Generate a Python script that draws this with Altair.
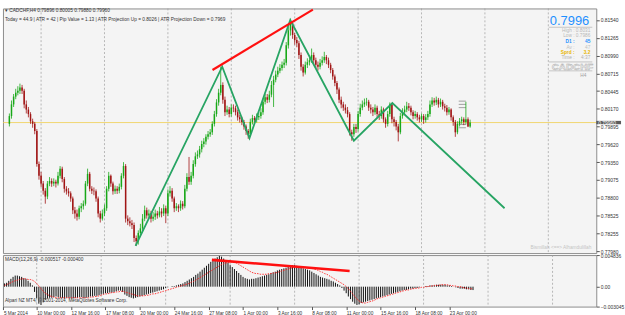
import altair as alt
import pandas as pd

# ---------------- data ----------------
first_open = 0.7994
close = [0.8006, 0.8024, 0.8036, 0.8042, 0.8045, 0.8050, 0.8045, 0.8024, 0.8016, 0.8009,
         0.7998, 0.7994, 0.7983, 0.7932, 0.7914, 0.7902, 0.7891, 0.7882, 0.7902, 0.7906,
         0.7902, 0.7905, 0.7902, 0.7914, 0.7925, 0.7909, 0.7894, 0.7890, 0.7887, 0.7879,
         0.7861, 0.7856, 0.7851, 0.7864, 0.7867, 0.7871, 0.7902, 0.7917, 0.7894, 0.7891,
         0.7890, 0.7879, 0.7856, 0.7848, 0.7856, 0.7864, 0.7894, 0.7914, 0.7902, 0.7890,
         0.7894, 0.7891, 0.7897, 0.7914, 0.7929, 0.7848, 0.7844, 0.7841, 0.7838, 0.7818,
         0.7813, 0.7826, 0.7833, 0.7848, 0.7861, 0.7853, 0.7856, 0.7848, 0.7851, 0.7856,
         0.7853, 0.7859, 0.7856, 0.7864, 0.7856, 0.7887, 0.7891, 0.7879, 0.7864, 0.7867,
         0.7864, 0.7871, 0.7867, 0.7894, 0.7912, 0.7905, 0.7914, 0.7932, 0.7944, 0.7947,
         0.7955, 0.7963, 0.7967, 0.7974, 0.7978, 0.7981, 0.7994, 0.8009, 0.8027, 0.8042,
         0.8054, 0.8031, 0.8012, 0.8016, 0.8009, 0.8019, 0.8018, 0.8012, 0.8004, 0.8001,
         0.7997, 0.7990, 0.7983, 0.7978, 0.7997, 0.8003, 0.8000, 0.8004, 0.8006, 0.8012,
         0.8028, 0.8035, 0.8031, 0.8039, 0.8054, 0.8062, 0.8070, 0.8076, 0.8080, 0.8085,
         0.8088, 0.8115, 0.8138, 0.8149, 0.8131, 0.8123, 0.8118, 0.8100, 0.8082, 0.8073,
         0.8085, 0.8089, 0.8092, 0.8100, 0.8092, 0.8085, 0.8082, 0.8088, 0.8092, 0.8097,
         0.8092, 0.8085, 0.8077, 0.8067, 0.8057, 0.8047, 0.8031, 0.8024, 0.8019, 0.8015,
         0.8009, 0.7981, 0.7978, 0.7989, 0.7986, 0.8009, 0.8019, 0.8024, 0.8027, 0.8028,
         0.8019, 0.8016, 0.8012, 0.8019, 0.8009, 0.8006, 0.8016, 0.8001, 0.7994, 0.8009,
         0.8024, 0.8001, 0.7997, 0.7990, 0.7981, 0.8006, 0.8012, 0.8016, 0.8021, 0.8019,
         0.8012, 0.8006, 0.8009, 0.8004, 0.8001, 0.8006, 0.8000, 0.8004, 0.8009, 0.8024,
         0.8030, 0.8027, 0.8031, 0.8024, 0.8028, 0.8021, 0.8019, 0.8012, 0.8016, 0.8004,
         0.7997, 0.7981, 0.7994, 0.7998, 0.8001, 0.7997, 0.8001, 0.7990, 0.79960]
high = [0.8010, 0.8030, 0.8040, 0.8048, 0.8052, 0.8056, 0.8054, 0.8048, 0.8030, 0.8020,
        0.8012, 0.8002, 0.7997, 0.7986, 0.7936, 0.7920, 0.7906, 0.7895, 0.7906, 0.7912,
        0.7910, 0.7910, 0.7908, 0.7920, 0.7929, 0.7928, 0.7912, 0.7898, 0.7895, 0.7890,
        0.7882, 0.7866, 0.7862, 0.7868, 0.7872, 0.7876, 0.7906, 0.7925, 0.7920, 0.7898,
        0.7896, 0.7893, 0.7882, 0.7860, 0.7862, 0.7870, 0.7898, 0.7920, 0.7916, 0.7905,
        0.7899, 0.7898, 0.7902, 0.7918, 0.7935, 0.7932, 0.7853, 0.7850, 0.7846, 0.7842,
        0.7822, 0.7830, 0.7840, 0.7855, 0.7868, 0.7865, 0.7862, 0.7860, 0.7858, 0.7862,
        0.7860, 0.7866, 0.7864, 0.7870, 0.7868, 0.7893, 0.7898, 0.7895, 0.7882, 0.7872,
        0.7870, 0.7876, 0.7875, 0.7900, 0.7918, 0.7943, 0.7920, 0.7938, 0.7950, 0.7953,
        0.7960, 0.7968, 0.7972, 0.7978, 0.7983, 0.7986, 0.7998, 0.8014, 0.8032, 0.8048,
        0.8082, 0.8058, 0.8036, 0.8022, 0.8020, 0.8024, 0.8024, 0.8022, 0.8016, 0.8008,
        0.8005, 0.8000, 0.7993, 0.7986, 0.8002, 0.8008, 0.8006, 0.8010, 0.8012, 0.8018,
        0.8033, 0.8040, 0.8040, 0.8045, 0.8060, 0.8068, 0.8076, 0.8082, 0.8086, 0.8090,
        0.8094, 0.8120, 0.8143, 0.8156, 0.8152, 0.8134, 0.8128, 0.8122, 0.8104, 0.8086,
        0.8090, 0.8095, 0.8098, 0.8110, 0.8104, 0.8096, 0.8090, 0.8094, 0.8098, 0.8105,
        0.8100, 0.8096, 0.8088, 0.8080, 0.8070, 0.8060, 0.8050, 0.8036, 0.8028, 0.8024,
        0.8020, 0.8012, 0.7985, 0.7994, 0.7994, 0.8014, 0.8025, 0.8030, 0.8033, 0.8034,
        0.8031, 0.8024, 0.8020, 0.8024, 0.8022, 0.8014, 0.8021, 0.8019, 0.8004, 0.8014,
        0.8027, 0.8026, 0.8005, 0.8000, 0.7994, 0.8011, 0.8018, 0.8022, 0.8028, 0.8026,
        0.8022, 0.8015, 0.8014, 0.8012, 0.8008, 0.8010, 0.8009, 0.8009, 0.8014, 0.8030,
        0.8035, 0.8034, 0.8036, 0.8034, 0.8033, 0.8031, 0.8025, 0.8023, 0.8020, 0.8018,
        0.8007, 0.8000, 0.7998, 0.8003, 0.8005, 0.8004, 0.8028, 0.8004, 0.80005]
low = [0.7990, 0.8002, 0.8020, 0.8032, 0.8038, 0.8040, 0.8040, 0.8018, 0.8010, 0.8004,
       0.7994, 0.7988, 0.7978, 0.7928, 0.7908, 0.7897, 0.7885, 0.7871, 0.7878, 0.7898,
       0.7897, 0.7898, 0.7896, 0.7899, 0.7910, 0.7904, 0.7888, 0.7885, 0.7882, 0.7874,
       0.7855, 0.7848, 0.7845, 0.7847, 0.7858, 0.7862, 0.7868, 0.7898, 0.7890, 0.7886,
       0.7884, 0.7874, 0.7850, 0.7842, 0.7845, 0.7852, 0.7860, 0.7890, 0.7897, 0.7885,
       0.7886, 0.7886, 0.7887, 0.7893, 0.7910, 0.7842, 0.7838, 0.7836, 0.7832, 0.7812,
       0.7806, 0.7808, 0.7820, 0.7828, 0.7844, 0.7848, 0.7848, 0.7842, 0.7844, 0.7846,
       0.7848, 0.7850, 0.7850, 0.7852, 0.7841, 0.7852, 0.7882, 0.7874, 0.7858, 0.7860,
       0.7858, 0.7860, 0.7862, 0.7864, 0.7890, 0.7900, 0.7900, 0.7910, 0.7928, 0.7940,
       0.7942, 0.7950, 0.7958, 0.7962, 0.7970, 0.7974, 0.7977, 0.7990, 0.8005, 0.8022,
       0.8038, 0.8025, 0.8006, 0.8008, 0.8004, 0.8005, 0.8012, 0.8007, 0.7999, 0.7996,
       0.7992, 0.7985, 0.7977, 0.7971, 0.7975, 0.7993, 0.7995, 0.7996, 0.8000, 0.8002,
       0.8008, 0.8024, 0.8026, 0.8027, 0.8035, 0.8020, 0.8058, 0.8066, 0.8072, 0.8076,
       0.8080, 0.8084, 0.8110, 0.8130, 0.8125, 0.8116, 0.8112, 0.8094, 0.8076, 0.8067,
       0.8070, 0.8080, 0.8084, 0.8088, 0.8086, 0.8080, 0.8076, 0.8078, 0.8084, 0.8088,
       0.8086, 0.8080, 0.8072, 0.8062, 0.8052, 0.8040, 0.8026, 0.8018, 0.8014, 0.8010,
       0.8004, 0.7976, 0.7968, 0.7974, 0.7980, 0.7982, 0.8005, 0.8015, 0.8020, 0.8022,
       0.8014, 0.8010, 0.8006, 0.8008, 0.8004, 0.8000, 0.8002, 0.7996, 0.7988, 0.7990,
       0.8005, 0.7995, 0.7990, 0.7984, 0.7967, 0.7978, 0.8002, 0.8008, 0.8012, 0.8014,
       0.8007, 0.8001, 0.8002, 0.7999, 0.7996, 0.7997, 0.7994, 0.7996, 0.8000, 0.8005,
       0.8020, 0.8022, 0.8023, 0.8019, 0.8020, 0.8016, 0.8013, 0.8007, 0.8008, 0.7999,
       0.7991, 0.7974, 0.7978, 0.7990, 0.7994, 0.7992, 0.7993, 0.7989, 0.79880]

macd = [0.0005, 0.0006, 0.0009, 0.0012, 0.0015, 0.0017, 0.0017, 0.0016, 0.0015, 0.0013,
        0.0012, 0.0009, 0.0006, 0.0002, -0.0008, -0.0018, -0.0026, -0.0028, -0.0024, -0.0020,
        -0.0018, -0.0017, -0.0017, -0.0016, -0.0015, -0.0016, -0.0017, -0.0017, -0.0018, -0.0017,
        -0.0017, -0.0018, -0.0018, -0.0017, -0.0017, -0.0016, -0.0016, -0.0018, -0.0017, -0.0016,
        -0.0015, -0.0015, -0.0014, -0.0014, -0.0013, -0.0012, -0.0011, -0.0010, -0.0010, -0.0009,
        -0.0009, -0.0008, -0.0007, -0.0006, -0.0006, -0.0008, -0.0012, -0.0014, -0.0016, -0.0017,
        -0.0018, -0.0017, -0.0016, -0.0015, -0.0014, -0.0013, -0.0012, -0.0011, -0.0010, -0.0009,
        -0.0008, -0.0007, -0.0006, -0.0005, -0.0004, -0.0002, -0.0001, 0.0000, 0.0001, 0.0001,
        0.0002, 0.0003, 0.0004, 0.0005, 0.0007, 0.0009, 0.0011, 0.0013, 0.0015, 0.0018,
        0.0020, 0.0023, 0.0026, 0.0029, 0.0032, 0.0035, 0.0038, 0.0040, 0.0043, 0.0045,
        0.0047, 0.0046, 0.0043, 0.0040, 0.0037, 0.0033, 0.0030, 0.0027, 0.0024, 0.0021,
        0.0018, 0.0015, 0.0013, 0.0012, 0.0011, 0.0012, 0.0012, 0.0013, 0.0014, 0.0015,
        0.0016, 0.0017, 0.0018, 0.0019, 0.0021, 0.0022, 0.0023, 0.0025, 0.0026, 0.0027,
        0.0028, 0.0029, 0.0030, 0.0032, 0.0033, 0.0033, 0.0032, 0.0030, 0.0029, 0.0028,
        0.0027, 0.0026, 0.0025, 0.0023, 0.0021, 0.0019, 0.0017, 0.0015, 0.0014, 0.0013,
        0.0012, 0.0011, 0.0009, 0.0008, 0.0006, 0.0004, 0.0002, -0.0002, -0.0006, -0.0010,
        -0.0015, -0.0019, -0.0023, -0.0026, -0.0028, -0.0027, -0.0025, -0.0024, -0.0023, -0.0022,
        -0.0021, -0.0020, -0.0019, -0.0018, -0.0017, -0.0016, -0.0015, -0.0014, -0.0013, -0.0012,
        -0.0011, -0.0010, -0.0009, -0.0008, -0.0007, -0.0006, -0.0005, -0.0005, -0.0004, -0.0003,
        -0.0003, -0.0002, -0.0002, -0.0001, 0.0000, 0.0000, 0.0001, 0.0001, 0.0002, 0.0002,
        0.0002, 0.0003, 0.0003, 0.0003, 0.0003, 0.0003, 0.0002, 0.0002, 0.0001, 0.0000,
        -0.0001, -0.0002, -0.0003, -0.0003, -0.0003, -0.0004, -0.0004, -0.0005, -0.000517]
signal = [0.0002, 0.0003, 0.0005, 0.0006, 0.0008, 0.0009, 0.0010, 0.0011, 0.0012, 0.0012,
          0.0012, 0.0011, 0.0011, 0.0010, 0.0008, 0.0005, 0.0001, -0.0003, -0.0007, -0.0010,
          -0.0012, -0.0014, -0.0015, -0.0016, -0.0017, -0.0017, -0.0017, -0.0017, -0.0017, -0.0017,
          -0.0017, -0.0017, -0.0017, -0.0017, -0.0017, -0.0017, -0.0017, -0.0017, -0.0017, -0.0017,
          -0.0016, -0.0016, -0.0015, -0.0015, -0.0014, -0.0013, -0.0012, -0.0011, -0.0011, -0.0010,
          -0.0009, -0.0009, -0.0008, -0.0008, -0.0007, -0.0007, -0.0008, -0.0009, -0.0010, -0.0011,
          -0.0012, -0.0013, -0.0014, -0.0014, -0.0014, -0.0014, -0.0013, -0.0013, -0.0012, -0.0011,
          -0.0011, -0.0010, -0.0009, -0.0008, -0.0007, -0.0006, -0.0005, -0.0004, -0.0003, -0.0002,
          -0.0001, 0.0000, 0.0001, 0.0002, 0.0003, 0.0004, 0.0005, 0.0007, 0.0008, 0.0010,
          0.0012, 0.0014, 0.0016, 0.0018, 0.0020, 0.0022, 0.0024, 0.0026, 0.0028, 0.0030,
          0.0032, 0.0034, 0.0035, 0.0036, 0.0037, 0.0038, 0.0038, 0.0037, 0.0036, 0.0034,
          0.0032, 0.0030, 0.0028, 0.0026, 0.0024, 0.0022, 0.0021, 0.0020, 0.0020, 0.0019,
          0.0019, 0.0019, 0.0019, 0.0020, 0.0020, 0.0021, 0.0021, 0.0022, 0.0023, 0.0024,
          0.0025, 0.0026, 0.0027, 0.0028, 0.0029, 0.0030, 0.0030, 0.0030, 0.0030, 0.0030,
          0.0029, 0.0029, 0.0028, 0.0028, 0.0027, 0.0026, 0.0025, 0.0023, 0.0022, 0.0020,
          0.0019, 0.0017, 0.0015, 0.0013, 0.0011, 0.0009, 0.0007, 0.0005, 0.0003, 0.0000,
          -0.0003, -0.0007, -0.0011, -0.0015, -0.0019, -0.0022, -0.0024, -0.0025, -0.0025, -0.0024,
          -0.0023, -0.0022, -0.0021, -0.0019, -0.0018, -0.0017, -0.0016, -0.0015, -0.0014, -0.0013,
          -0.0012, -0.0011, -0.0010, -0.0009, -0.0008, -0.0007, -0.0006, -0.0005, -0.0005, -0.0004,
          -0.0003, -0.0003, -0.0002, -0.0002, -0.0001, -0.0001, 0.0000, 0.0000, 0.0001, 0.0001,
          0.0002, 0.0002, 0.0002, 0.0003, 0.0003, 0.0003, 0.0003, 0.0002, 0.0002, 0.0001,
          0.0001, 0.0000, 0.0000, -0.0001, -0.0002, -0.0002, -0.0003, -0.0003, -0.000400]

price_ticks = [0.81540, 0.81265, 0.80990, 0.80715, 0.80445, 0.80170, 0.79895,
               0.79620, 0.79350, 0.79075, 0.78800, 0.78525, 0.78255, 0.77980]
macd_ticks = [0.004836, 0.0, -0.003045]
time_idx = [-0.5, 15, 31, 47, 63, 79, 95, 111, 127, 143, 159, 175, 191, 207]
time_txt = ["5 Mar 2014", "10 Mar 00:00", "12 Mar 16:00", "17 Mar 08:00", "20 Mar 00:00",
            "24 Mar 16:00", "27 Mar 08:00", "1 Apr 00:00", "3 Apr 16:00", "8 Apr 08:00",
            "11 Apr 00:00", "15 Apr 16:00", "18 Apr 08:00", "23 Apr 00:00"]
grid_idx = [15, 45, 75, 105, 135, 165, 195, 225, 255]

zz_i = [59.7, 100.7, 113.6, 132.9, 163.0, 181.2, 234.3]
zz_p = [0.7806, 0.8082, 0.7972, 0.8154, 0.7968, 0.8026, 0.7864]
rl_i = [96.1, 143.6]
rl_p = [0.8077, 0.8170]
mr_i = [96.5, 160.6]
mr_v = [0.0041, 0.0024]
lv_a, lv_b = 212.6, 216.0
levels = [0.8029, 0.8024, 0.8019, 0.7993, 0.7988]
bid = 0.79960

# ---------------- frames ----------------
n = len(close)
opens = [first_open] + close[:-1]
candles = pd.DataFrame({"i": list(range(n)), "o": opens, "h": high, "l": low, "c": close})
candles["dir"] = ["up" if c >= o else "down" for o, c in zip(opens, close)]
mdf = pd.DataFrame({"i": list(range(len(macd))), "m": macd, "s": signal, "z": [0.0] * len(macd)})
grid_df = pd.DataFrame({"g": grid_idx})
zz_df = pd.DataFrame({"zi": zz_i, "zp": zz_p, "k": list(range(len(zz_i)))})
rl_df = pd.DataFrame({"ri": rl_i, "rp": rl_p})
mr_df = pd.DataFrame({"ri": mr_i, "rv": mr_v})
lv_df = pd.DataFrame({"a": [lv_a] * len(levels), "b": [lv_b] * len(levels), "v": levels})
bid_df = pd.DataFrame({"p": [bid], "top": [bid + 0.00026], "bot": [bid - 0.00026], "lbl": ["0.79960"]})

FONT = "Liberation Sans"
xs = alt.Scale(domain=[-0.69, 275.35], nice=False, zero=False)
ys = alt.Scale(domain=[0.77949, 0.81718], nice=False, zero=False)
ms = alt.Scale(domain=[-0.003045, 0.004836], nice=False, zero=False)

yaxis = alt.Axis(orient="right", values=price_ticks, format=".5f", title=None, grid=False,
                 domain=False, tickSize=3, tickColor="#555", labelFontSize=5, labelPadding=1,
                 labelColor="#333", labelFont=FONT, labelFlush=False, labelOverlap=False)
maxis = alt.Axis(orient="right", values=macd_ticks, title=None, grid=False, domain=False,
                 tickSize=3, tickColor="#555", labelFontSize=5, labelPadding=1, labelColor="#333",
                 labelFont=FONT, labelFlush=False, labelOverlap=False,
                 labelExpr="datum.value == 0 ? '0.00' : format(datum.value, '.6f')")
labels_js = "[" + ",".join("'%s'" % t for t in time_txt) + "]"
vals_js = "[" + ",".join(str(v) for v in time_idx) + "]"
xaxis = alt.Axis(values=time_idx, labelExpr=f"{labels_js}[indexof({vals_js}, datum.value)]",
                 labelAlign="left", labelBaseline="top", title=None, grid=False, domain=False,
                 tickSize=3, tickColor="#555", labelFontSize=4.8, labelPadding=1,
                 labelColor="#333", labelFont=FONT, labelFlush=False, labelOverlap=False)


def X(f):
    return alt.X(f, scale=xs, axis=None)


def Y(f):
    return alt.Y(f, scale=ys, axis=yaxis)


def one():
    return pd.DataFrame({"t": [""]})


def txt(s, x, y, size=4.8, color="#333", align="left", weight="normal", **kw):
    return alt.Chart(pd.DataFrame({"t": [s]})).mark_text(
        align=align, baseline="middle", fontSize=size, color=color, fontWeight=weight,
        font=FONT, **kw).encode(x=alt.value(x), y=alt.value(y), text="t:N")


def hline(x1, x2, y, color="#b8b8b8", w=0.8):
    return alt.Chart(one()).mark_rule(color=color, strokeWidth=w).encode(
        x=alt.value(x1), x2=alt.value(x2), y=alt.value(y))


cscale = alt.Scale(domain=["up", "down"], range=["#18a818", "#a01414"])

grid_main = alt.Chart(grid_df).mark_rule(color="#9c9c9c", strokeDash=[2, 2], strokeWidth=0.7).encode(x=X("g:Q"))
bid_line = alt.Chart(bid_df).mark_rule(color="#f0cf50", strokeWidth=0.8).encode(y=Y("p:Q"))
wicks = alt.Chart(candles).mark_rule(strokeWidth=0.8).encode(
    x=X("i:Q"), y=Y("l:Q"), y2="h:Q", color=alt.Color("dir:N", scale=cscale, legend=None))
bodies = alt.Chart(candles).mark_bar(size=1.5).encode(
    x=X("i:Q"), y=Y("o:Q"), y2="c:Q", color=alt.Color("dir:N", scale=cscale, legend=None))
zigzag = alt.Chart(zz_df).mark_line(color="#27a463", strokeWidth=1.8).encode(
    x=X("zi:Q"), y=Y("zp:Q"), order="k:Q")
redline = alt.Chart(rl_df).mark_line(color="#ff1010", strokeWidth=2.2).encode(x=X("ri:Q"), y=Y("rp:Q"))
lvls = alt.Chart(lv_df).mark_rule(color="#8a8a8a", strokeWidth=0.8).encode(x=X("a:Q"), x2="b:Q", y=Y("v:Q"))
bid_box = alt.Chart(bid_df).mark_rect(color="#5c5c5c").encode(
    x=alt.value(599), x2=alt.value(624), y=Y("top:Q"), y2="bot:Q")
bid_txt = alt.Chart(bid_df).mark_text(color="white", fontSize=5, align="left", baseline="middle",
                                      font=FONT).encode(x=alt.value(601), y=Y("p:Q"), text="lbl:N")

main_texts = [
    txt("\u25be CADCHF,H4  0.79896 0.80005 0.79880 0.79960", 2, 3),
    txt("Today = 44.9  |   ATR = 42   |   Pip Value = 1.13   |   ATR Projection Up = 0.8026   |   ATR Projection Down = 0.7969", 2, 12),
    txt("0.7996", 572, 13, size=13, color="#1e90ff", align="center"),
    hline(551, 595, 19),
    txt("High :", 577, 22.5, color="#b8b8b8", align="right"), txt("0.8031", 593, 22.5, color="#b8b8b8", align="right"),
    txt("Low :", 577, 28, color="#b8b8b8", align="right"), txt("0.7986", 593, 28, color="#b8b8b8", align="right"),
    txt("D1 :", 577, 34, color="#1e90ff", align="right", weight="bold"), txt("45", 593, 34, color="#1e90ff", align="right", weight="bold"),
    txt("Av :", 577, 39.5, color="#c0c0c0", align="right"), txt("47", 593, 39.5, color="#c0c0c0", align="right"),
    txt("Sprd :", 577, 45, color="#e8b400", align="right", weight="bold"), txt("3.2", 593, 45, color="#e8b400", align="right", weight="bold"),
    txt("Time :", 577, 50, color="#b0b0b0", align="right"), txt("4:37", 593, 50, color="#b0b0b0", align="right"),
    hline(551, 595, 54),
    txt("CADCHF", 575, 59, size=10, color="#ececec", align="center", weight="bold", stroke="#a8a8a8", strokeWidth=0.4),
    hline(551, 595, 63),
    txt("H4", 586, 68, color="#a0a0a0", align="center"),
    txt("Bismillah <==> Alhamdulillah", 594, 242, color="#c4c4c4", align="right"),
]

main = alt.layer(grid_main, bid_line, lvls, wicks, bodies, zigzag, redline, bid_box, bid_txt,
                 *main_texts).properties(width=599, height=247)


def MX(f):
    return alt.X(f, scale=xs, axis=xaxis)


def MY(f):
    return alt.Y(f, scale=ms, axis=maxis)


grid_macd = alt.Chart(grid_df).mark_rule(color="#9c9c9c", strokeDash=[2, 2], strokeWidth=0.7).encode(x=MX("g:Q"))
hist = alt.Chart(mdf).mark_rule(color="#111111", strokeWidth=1).encode(x=MX("i:Q"), y=MY("m:Q"), y2="z:Q")
sig = alt.Chart(mdf).mark_line(color="#ff2020", strokeDash=[1.5, 1.2], strokeWidth=0.9).encode(x=MX("i:Q"), y=MY("s:Q"))
mred = alt.Chart(mr_df).mark_line(color="#ff1010", strokeWidth=2.6).encode(x=MX("ri:Q"), y=MY("rv:Q"))
macd_texts = [
    txt("MACD(12,26,9) -0.000517 -0.000400", 2, 5),
    txt("Alpari NZ MT4, \u00a9 2001-2014, MetaQuotes Software Corp.", 2, 46),
]
macd_chart = alt.layer(grid_macd, hist, sig, mred, *macd_texts).properties(width=599, height=52)

chart = alt.vconcat(main, macd_chart, spacing=2, bounds="flush").resolve_scale(
    x="independent", y="independent").properties(
    padding={"left": 2, "top": 3, "right": 0, "bottom": 0}, background="white"
).configure_view(stroke="#8c8c8c", strokeWidth=1, fill="#f4f4f4")

chart.save("out.html", embed_options={"renderer": "svg", "actions": False})
